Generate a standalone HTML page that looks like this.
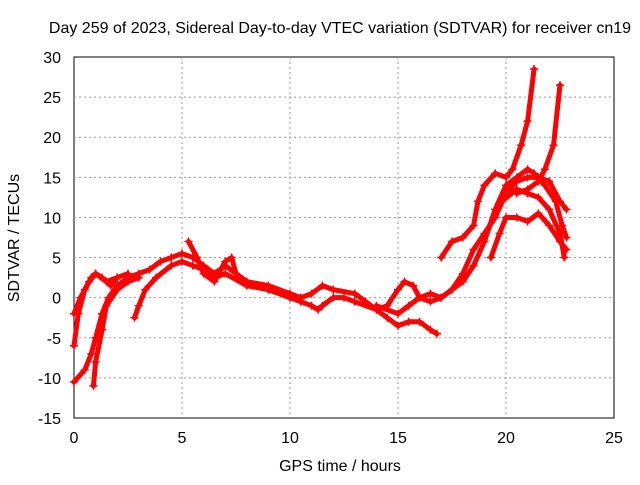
<!DOCTYPE html>
<html><head><meta charset="utf-8"><style>
body{margin:0;background:#fff}
svg text{font-family:"Liberation Sans",sans-serif;font-size:16px;fill:#000}
</style></head><body>
<svg id="c" width="640" height="480">
<rect x="74" y="57" width="540" height="361" fill="none" stroke="#000"/>
<g id="grid"></g>
<g id="ticks"></g>
<g id="series"></g>
<text x="340" y="33" text-anchor="middle">Day 259 of 2023, Sidereal Day-to-day VTEC variation (SDTVAR) for receiver cn19</text>
<text x="340" y="471" text-anchor="middle">GPS time / hours</text>
<text x="0" y="0" text-anchor="middle" transform="translate(19,238) rotate(-90)">SDTVAR / TECUs</text>
</svg>
<script>
const xTicks=[0,5,10,15,20,25];
const yTicks=[-15,-10,-5,0,5,10,15,20,25,30];
const tracks=[
[[0,-10.5],[0.5,-9],[0.8,-7],[1.0,-5],[1.3,-2],[1.6,0],[2,1.5],[2.5,2.5],[3,3],[3.5,3.5],[4,4.5],[4.5,5],[5,5.5],[5.5,5],[6,4],[6.5,3],[7,4],[7.5,3],[8,2],[9,1.5],[10,0.5],[10.5,0],[11,0.5],[11.5,1.5],[12,1],[13,0.5],[13.5,-0.5],[14,-1.5],[14.5,-1],[15,1],[15.3,2],[15.7,1.5],[16,0],[16.5,-0.5],[17,0],[17.5,1],[18,3],[18.5,6],[19,8],[19.5,10],[20,13],[20.5,14.5],[21,15],[21.5,15],[22,14.5],[22.5,12],[22.8,11]],
[[0,-6],[0.2,-2],[0.5,1],[0.8,2.5],[1,3],[1.3,2.5],[1.7,1.5],[2,2.5],[2.5,3]],
[[0.9,-11],[1.0,-8],[1.3,-4],[1.5,-1],[2,1],[2.5,2],[3,2.5]],
[[2.8,-2.5],[3,-1],[3.3,1],[3.8,2.5],[4.5,4],[5,4.5],[5.5,4],[6,3.5],[6.5,2.5],[7,3],[8,1.5],[9,1],[10,0]],
[[0,-2],[0.3,0],[0.7,2],[1,3],[1.5,2],[2,2.5]],
[[5.3,7],[5.7,5],[6,3],[6.5,2],[7,4.5],[7.3,5],[7.5,3],[8,2],[9,1],[10,0],[10.5,-0.5],[11,-1],[11.3,-1.5],[11.5,-1],[12,0],[12.5,0],[13,-0.5],[14,-1.5],[14.5,-2.5],[15,-3.5],[15.5,-3],[16,-3],[16.5,-4],[16.8,-4.5]],
[[14,-1],[15,-2],[15.5,-1],[16,0],[16.5,0.5],[17,0],[17.5,1],[18,2],[18.5,4],[19,7],[19.5,11],[20,14],[20.5,15],[21,16],[21.3,15.5],[21.8,14],[22.3,12],[22.6,9],[22.8,7.5]],
[[17,5],[17.5,7],[18,7.5],[18.5,9],[18.7,12],[19,14],[19.5,15.5],[20,15],[20.3,16],[20.7,19],[21,22],[21.3,28.5]],
[[19.3,5],[19.7,8],[20,10],[20.5,10],[21,9.5],[21.5,10.5],[22,9],[22.5,7],[22.8,6]],
[[20.5,13],[21,13.5],[21.5,14.5],[21.8,16],[22.2,19],[22.5,26.5]],
[[19.8,12],[20.5,13.5],[21,13],[21.5,12.5],[22,11],[22.5,8],[22.7,5]]
];
const X=v=>74+v*21.6, Y=v=>418-(v+15)*361/45;
const NS="http://www.w3.org/2000/svg";
const g=document.getElementById('grid'),t=document.getElementById('ticks'),s=document.getElementById('series');
function mk(tag,p,par){const e=document.createElementNS(NS,tag);for(const k in p)e.setAttribute(k,p[k]);par.appendChild(e);return e;}
xTicks.forEach(v=>{
 if(v>0&&v<25){const l=mk('line',{x1:X(v),x2:X(v),y1:57,y2:418,stroke:'#999','stroke-dasharray':'2,3','stroke-width':1},g);
 
 }
 const tx=mk('text',{x:X(v),y:443,'text-anchor':'middle'},t);tx.textContent=v;
 
 
});
yTicks.forEach(v=>{
 if(v>-15&&v<30){const l=mk('line',{x1:74,x2:614,y1:Y(v),y2:Y(v),stroke:'#999','stroke-dasharray':'2,3','stroke-width':1},g);
 
 }
 const tx=mk('text',{x:61,y:Y(v)+6,'text-anchor':'end'},t);tx.textContent=v;
 
 
});
tracks.forEach(tr=>{
 const pl=mk('polyline',{points:tr.map(p=>X(p[0])+','+Y(p[1])).join(' '),fill:'none',stroke:'#f00','stroke-width':5,'stroke-linejoin':'round','stroke-linecap':'round'},s);
 
 
 tr.forEach(p=>{const m=mk('path',{d:`M${X(p[0])-4},${Y(p[1])}h8M${X(p[0])},${Y(p[1])-4}v8`,stroke:'#f00','stroke-width':1.5},s);
 
 });
});
</script>
</body></html>
